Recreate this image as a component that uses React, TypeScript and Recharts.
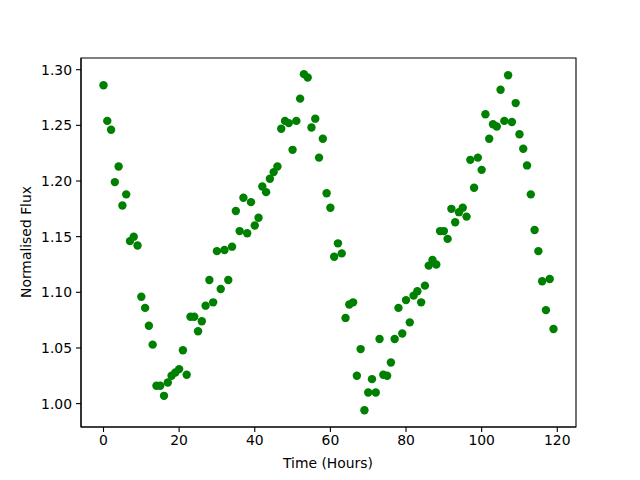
import React from 'react';
import { ScatterChart, Scatter, XAxis, YAxis, ReferenceArea, Label } from 'recharts';

const hours: number[] = Array.from({ length: 120 }, (_, i) => i);
const flux: number[] = [
  1.286, 1.254, 1.246, 1.199, 1.213, 1.178, 1.188, 1.146, 1.150, 1.142,
  1.096, 1.086, 1.070, 1.053, 1.016, 1.016, 1.007, 1.019, 1.025, 1.028,
  1.031, 1.048, 1.026, 1.078, 1.078, 1.065, 1.074, 1.088, 1.111, 1.091,
  1.137, 1.103, 1.138, 1.111, 1.141, 1.173, 1.155, 1.185, 1.153, 1.181,
  1.160, 1.167, 1.195, 1.190, 1.202, 1.208, 1.213, 1.247, 1.254, 1.252,
  1.228, 1.254, 1.274, 1.296, 1.293, 1.248, 1.256, 1.221, 1.238, 1.189,
  1.176, 1.132, 1.144, 1.135, 1.077, 1.089, 1.091, 1.025, 1.049, 0.994,
  1.010, 1.022, 1.010, 1.058, 1.026, 1.025, 1.037, 1.058, 1.086, 1.063,
  1.093, 1.073, 1.097, 1.101, 1.091, 1.106, 1.124, 1.129, 1.125, 1.155,
  1.155, 1.148, 1.175, 1.163, 1.172, 1.176, 1.168, 1.219, 1.194, 1.221,
  1.210, 1.260, 1.238, 1.251, 1.249, 1.282, 1.254, 1.295, 1.253, 1.270,
  1.242, 1.229, 1.214, 1.188, 1.156, 1.137, 1.110, 1.084, 1.112, 1.067,
];
const xTicks: number[] = [0, 20, 40, 60, 80, 100, 120];
const yTicks: number[] = [1.0, 1.05, 1.1, 1.15, 1.2, 1.25, 1.3];

const data = hours.map((h, i) => ({ x: h, y: flux[i] }));

const X_DOMAIN: [number, number] = [-5.95, 124.95];
const Y_DOMAIN: [number, number] = [0.979, 1.3105];

const font = { fontFamily: 'DejaVu Sans', fontSize: 13.9, fill: '#000' };

const Dot = (props: any) => (
  <circle cx={props.cx} cy={props.cy} r={4.2} fill="#008000" />
);

export default function App() {
  return (
    <div style={{ position: 'absolute', left: 0, top: 0, width: 640, height: 480, background: '#fff' }}>
      <ScatterChart width={640} height={480} margin={{ top: 58, right: 64, bottom: 23, left: 21 }}>
        <XAxis
          type="number"
          dataKey="x"
          domain={X_DOMAIN}
          ticks={xTicks}
          allowDataOverflow
          height={30}
          tickSize={5}
          tickMargin={3}
          tick={font}
          axisLine={{ stroke: '#000', strokeWidth: 1.1 }}
          tickLine={{ stroke: '#000', strokeWidth: 1.1 }}
        >
          <Label
            content={() => (
              <text x={328} y={468} textAnchor="middle" style={{ fontFamily: 'DejaVu Sans', fontSize: 13.9 }} fill="#000">
                Time (Hours)
              </text>
            )}
          />
        </XAxis>
        <YAxis
          type="number"
          dataKey="y"
          domain={Y_DOMAIN}
          ticks={yTicks}
          allowDataOverflow
          width={60}
          tickSize={5}
          tickMargin={4}
          tickFormatter={(v: number) => v.toFixed(2)}
          tick={font}
          axisLine={{ stroke: '#000', strokeWidth: 1.1 }}
          tickLine={{ stroke: '#000', strokeWidth: 1.1 }}
        >
          <Label
            content={() => (
              <text
                x={31}
                y={242}
                transform="rotate(-90 31 242)"
                textAnchor="middle"
                style={{ fontFamily: 'DejaVu Sans', fontSize: 13.9 }}
                fill="#000"
              >
                Normalised Flux
              </text>
            )}
          />
        </YAxis>
        <ReferenceArea
          x1={X_DOMAIN[0]}
          x2={X_DOMAIN[1]}
          y1={Y_DOMAIN[0]}
          y2={Y_DOMAIN[1]}
          fill="none"
          fillOpacity={0}
          stroke="#000"
          strokeWidth={1.1}
        />
        <Scatter data={data} shape={Dot} isAnimationActive={false} />
      </ScatterChart>
    </div>
  );
}
